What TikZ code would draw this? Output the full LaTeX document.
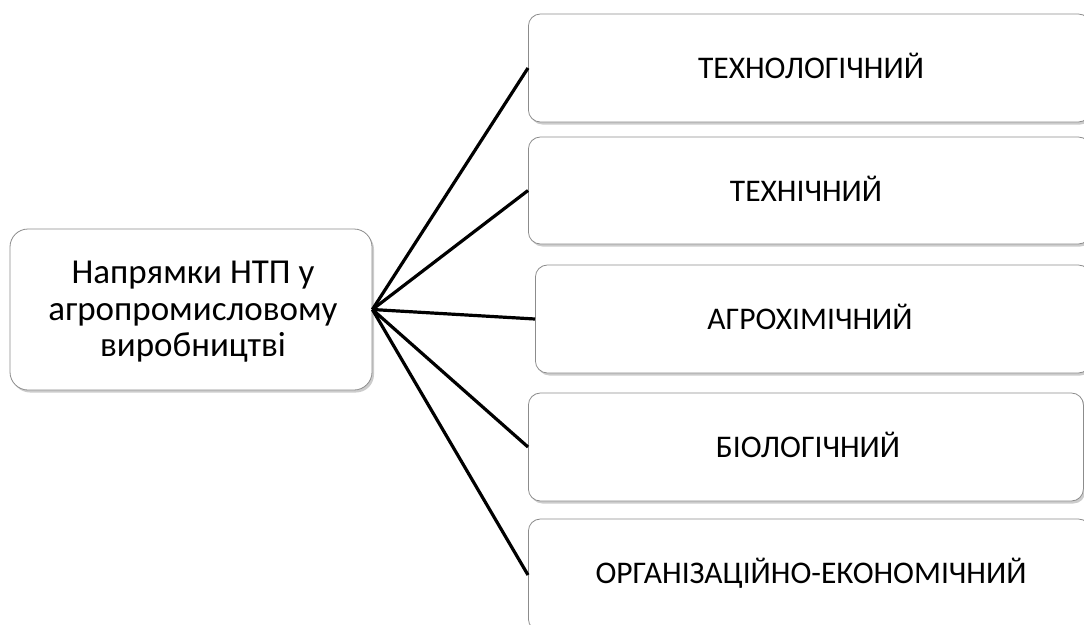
\documentclass[tikz,border=0pt]{standalone}
\usepackage{fontspec}
\setmainfont{Carlito}
\usetikzlibrary{shadows}
\begin{document}
\begin{tikzpicture}[x=1pt,y=-1pt,
  boxstyle/.style={draw=black!45, line width=0.8pt, fill=white, rounded corners=12pt,
    drop shadow={shadow xshift=2pt, shadow yshift=-2.5pt, fill=black!40, opacity=0.5}},
  conn/.style={line width=3.2pt, black},
  lbl/.style={font=\fontsize{31.5}{34}\selectfont, anchor=base},
  mainlbl/.style={font=\fontsize{35}{36.5}\selectfont, align=center}]
\useasboundingbox (0,0) rectangle (1084,624);
\begin{scope}
\clip (0,0) rectangle (1084,624);
\node[boxstyle, rounded corners=18pt, minimum width=362pt, minimum height=161pt, inner sep=0pt] (main) at (191,309.5) {};
\node[boxstyle, minimum width=562pt, minimum height=108pt, anchor=west] (b1) at (528,68) {};
\node[boxstyle, minimum width=562pt, minimum height=107pt, anchor=west] (b2) at (528,190.5) {};
\node[boxstyle, minimum width=555pt, minimum height=108pt, anchor=west] (b3) at (535,319) {};
\node[boxstyle, minimum width=555pt, minimum height=108pt, anchor=west] (b4) at (528,447) {};
\node[boxstyle, minimum width=562pt, minimum height=112pt, anchor=west] (b5) at (528,575) {};
\end{scope}
\node[mainlbl] (mt) at (193,312) {Напрямки НТП у\\агропромисловому\\виробництві};
\node[lbl] (t1) at (811,78) {ТЕХНОЛОГІЧНИЙ};
\node[lbl] (t2) at (806,201) {ТЕХНІЧНИЙ};
\node[lbl] (t3) at (810,329) {АГРОХІМІЧНИЙ};
\node[lbl] (t4) at (808,457) {БІОЛОГІЧНИЙ};
\node[lbl] (t5) at (811,583) {ОРГАНІЗАЦІЙНО-ЕКОНОМІЧНИЙ};
\coordinate (hub) at (main.east);
\foreach \b in {b1,b2,b3,b4,b5} \draw[conn] (hub) -- (\b.west);
\end{tikzpicture}
\end{document}
